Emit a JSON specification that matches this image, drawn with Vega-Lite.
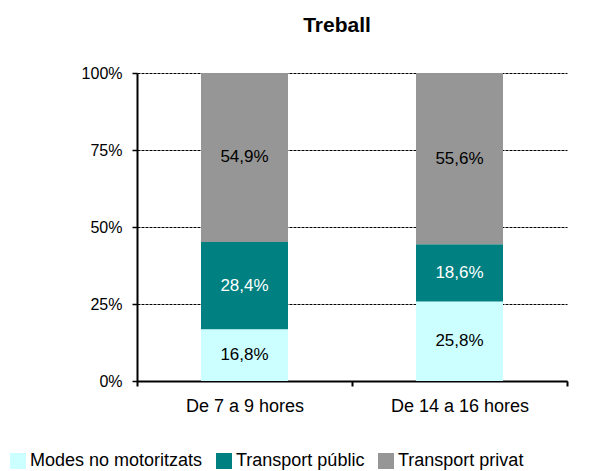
{
  "$schema": "https://vega.github.io/schema/vega-lite/v6.json",
  "width": 430,
  "height": 308,
  "autosize": "none",
  "padding": {"left": 137, "top": 73, "right": 48, "bottom": 90},
  "title": {"text": "Treball", "font": "Liberation Sans", "fontSize": 21, "fontWeight": "bold", "color": "#000000", "anchor": "middle", "offset": 29, "dx": -15},
  "data": {"values": [
    {"period": "De 7 a 9 hores", "mode": "Modes no motoritzats", "order": 1, "value": 0.168},
    {"period": "De 7 a 9 hores", "mode": "Transport públic", "order": 2, "value": 0.284},
    {"period": "De 7 a 9 hores", "mode": "Transport privat", "order": 3, "value": 0.549},
    {"period": "De 14 a 16 hores", "mode": "Modes no motoritzats", "order": 1, "value": 0.258},
    {"period": "De 14 a 16 hores", "mode": "Transport públic", "order": 2, "value": 0.186},
    {"period": "De 14 a 16 hores", "mode": "Transport privat", "order": 3, "value": 0.556}
  ]},
  "transform": [
    {"stack": "value", "groupby": ["period"], "sort": [{"field": "order", "order": "ascending"}], "offset": "normalize", "as": ["y0", "y1"]},
    {"calculate": "(datum.y0 + datum.y1) / 2", "as": "ymid"}
  ],
  "encoding": {
    "x": {
      "field": "period", "type": "nominal", "sort": null,
      "scale": {"paddingInner": 0, "paddingOuter": 0},
      "axis": {"title": null, "labelAngle": 0, "tickBand": "extent", "grid": false,
        "domainColor": "#000000", "domainWidth": 2, "tickColor": "#000000", "tickWidth": 2, "tickSize": 5,
        "labelFont": "Liberation Sans", "labelFontSize": 18, "labelColor": "#000000", "labelPadding": 11}
    }
  },
  "layer": [
    {
      "mark": {"type": "bar", "size": 87},
      "encoding": {
        "y": {"field": "y0", "type": "quantitative", "scale": {"domain": [0, 1], "nice": false},
          "axis": {"title": null, "values": [0, 0.25, 0.5, 0.75, 1], "format": ".0%",
            "grid": true, "gridColor": "#000000", "gridDash": [3, 1], "gridWidth": 1,
            "domainColor": "#000000", "domainWidth": 2, "tickColor": "#000000", "tickWidth": 1.5, "tickSize": 5,
            "labelFont": "Liberation Sans", "labelFontSize": 16, "labelColor": "#000000", "labelPadding": 10}},
        "y2": {"field": "y1"},
        "color": {
          "field": "mode", "type": "nominal",
          "scale": {"domain": ["Modes no motoritzats", "Transport públic", "Transport privat"], "range": ["#CCFFFF", "#008080", "#969696"]},
          "legend": {"title": null, "orient": "none", "legendX": -128, "legendY": 379, "direction": "horizontal", "columns": 3,
            "symbolType": "square", "symbolSize": 256, "symbolStrokeWidth": 0, "symbolOpacity": 1,
            "labelFont": "Liberation Sans", "labelFontSize": 18, "labelColor": "#000000", "labelOffset": 3, "labelLimit": 400, "columnPadding": 12}
        }
      }
    },
    {
      "mark": {"type": "text", "font": "Liberation Sans", "fontSize": 17, "baseline": "middle", "align": "center"},
      "encoding": {
        "y": {"field": "ymid", "type": "quantitative"},
        "text": {"field": "value", "type": "quantitative", "format": ".1%"},
        "color": {"condition": {"test": "datum.mode === 'Transport públic'", "value": "#FFFFFF"}, "value": "#000000"}
      }
    }
  ],
  "config": {
    "view": {"stroke": null},
    "locale": {"number": {"decimal": ",", "thousands": ".", "grouping": [3], "currency": ["", " €"]}}
  }
}
